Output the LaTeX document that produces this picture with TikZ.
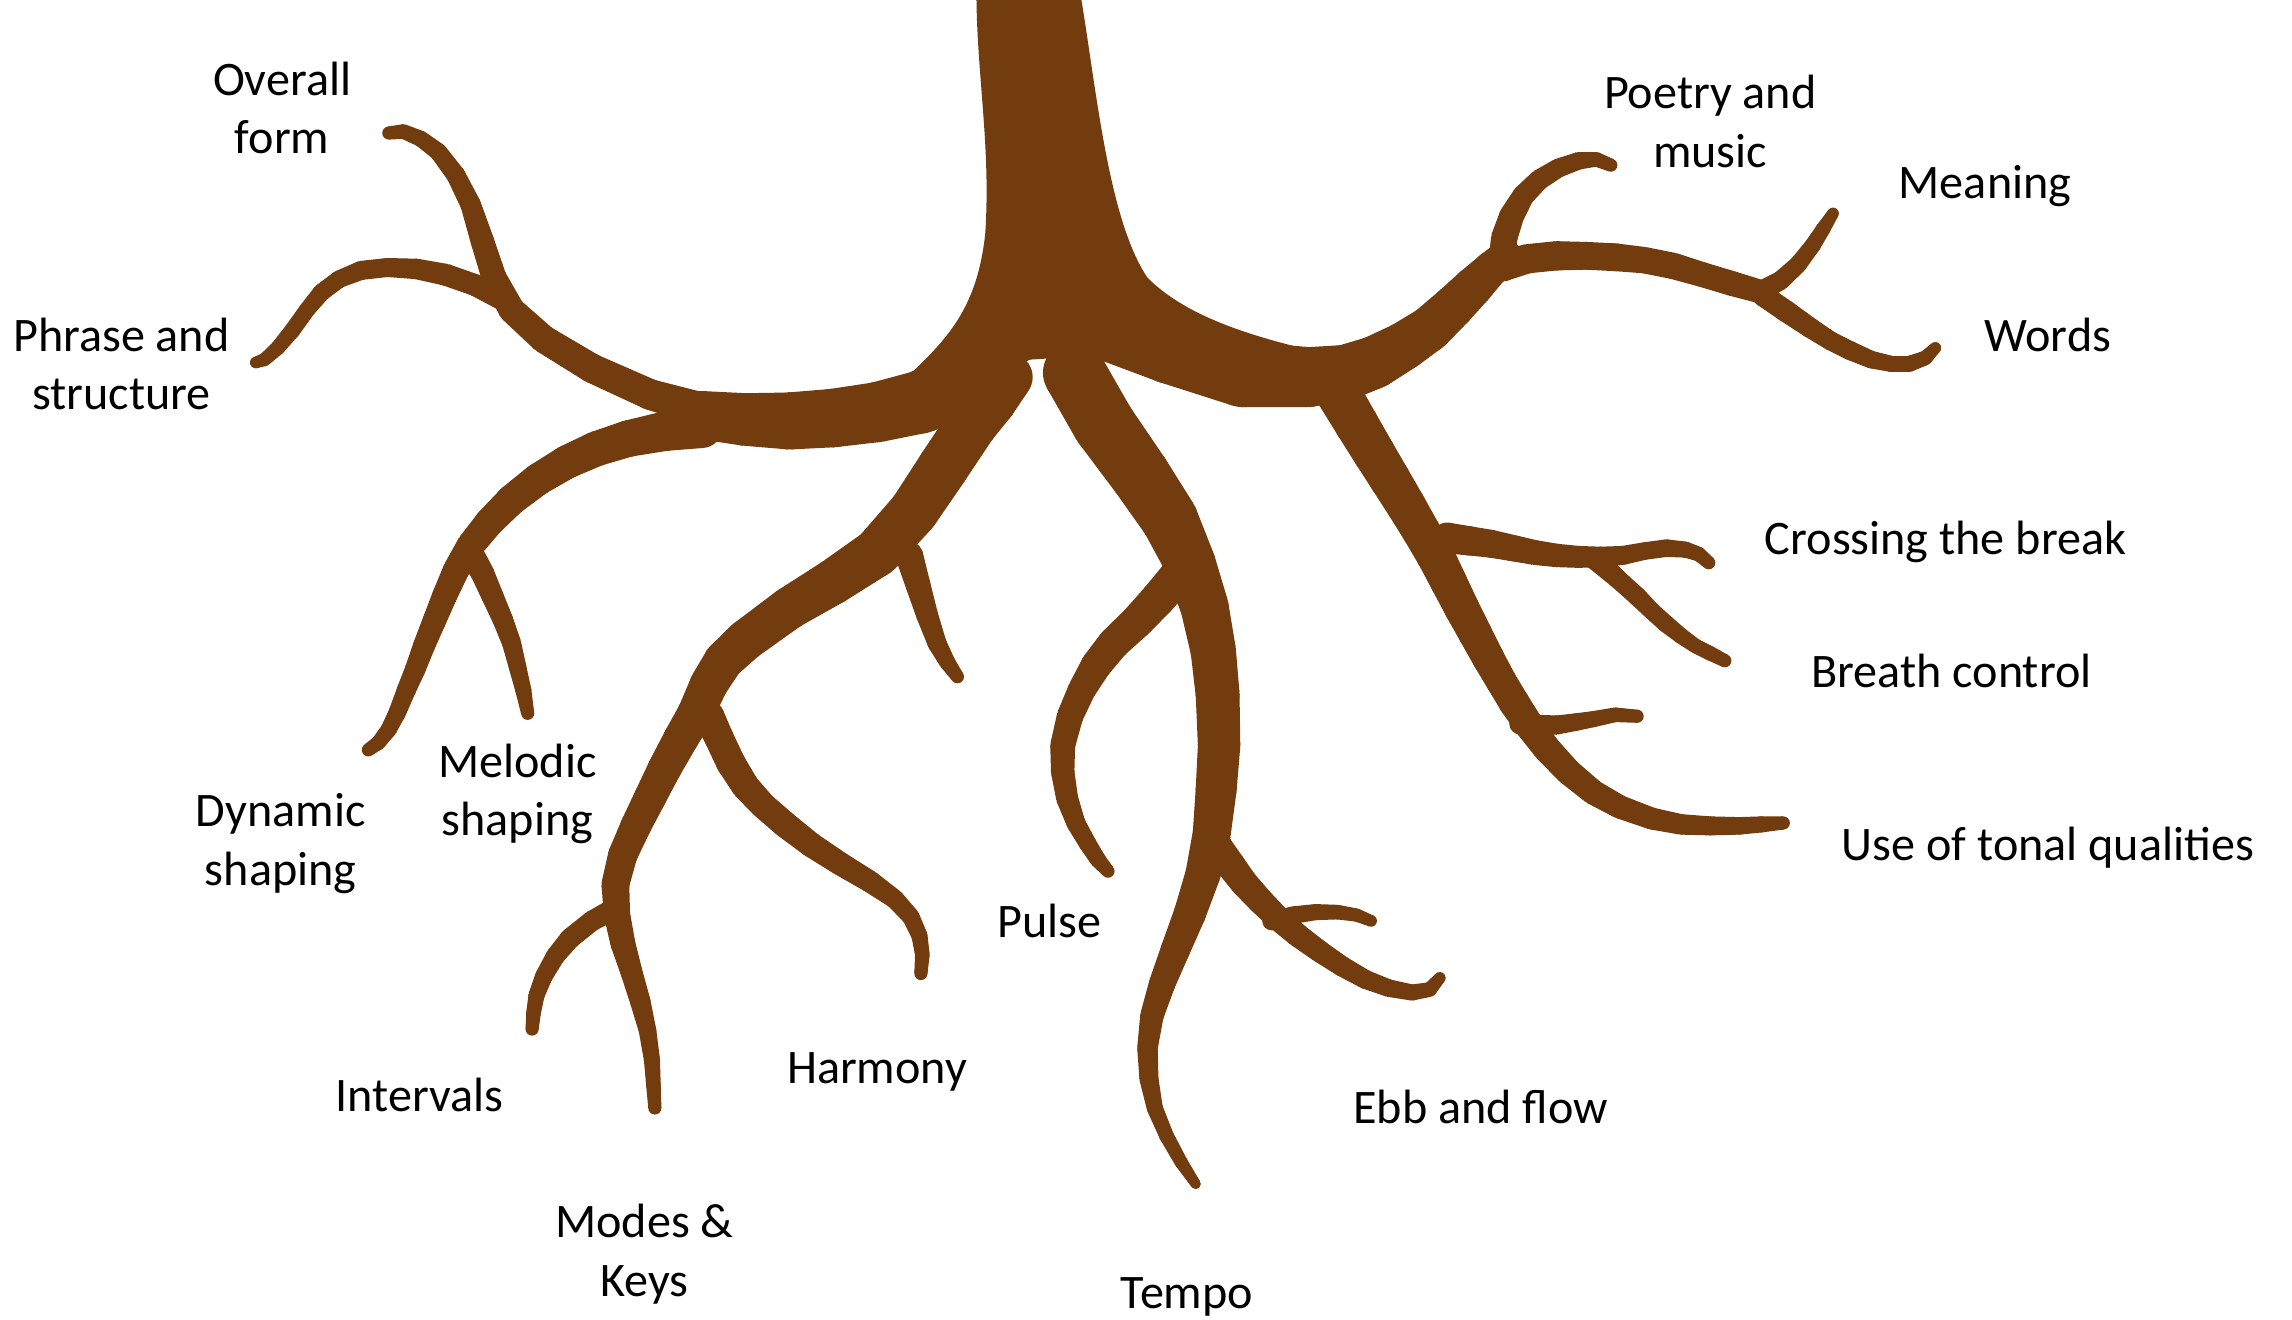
\documentclass[tikz,border=0pt]{standalone}
\usepackage{fontspec}
\setmainfont{Carlito}
\usepackage{tikz}
\usetikzlibrary{calc}
\definecolor{rootbrown}{HTML}{733C0E}

% Wurzelast als Liste x/y/Breite (Breite in Bildpunkten)
\newcommand\rootbranch[1]{%
  \foreach \x/\y/\w [count=\i, remember=\x as \px, remember=\y as \py, remember=\w as \pw] in {#1} {
    \pgfmathsetmacro\rw{(\w+5)*0.208}
    \fill[rootbrown] (\x,\y) circle[radius=\rw pt];
    \ifnum\i>1
      \pgfmathsetmacro\prw{(\pw+5)*0.208}
      \fill[rootbrown] ($(\px,\py)!\prw pt!90:(\x,\y)$) -- ($(\x,\y)!\rw pt!-90:(\px,\py)$)
        -- ($(\x,\y)!\rw pt!90:(\px,\py)$) -- ($(\px,\py)!\prw pt!-90:(\x,\y)$) -- cycle;
    \fi
  }}

\begin{document}
\begin{tikzpicture}[
    x=0.0146173cm, y=-0.0146173cm,
    rootlabel/.style={font=\fontsize{13.7}{16.6}\selectfont, align=center, inner sep=0pt}
]
\useasboundingbox (0,0) rectangle (1568,903);
\fill[white] (0,0) rectangle (1568,903);

% Stamm
\fill[rootbrown] (668,-5) -- (739,-5) .. controls (750,60) and (758,150) .. (785,190)
    .. controls (810,215) and (850,228) .. (890,238) -- (885,262) -- (770,242) -- (705,246)
    -- (640,272) -- (612,266) .. controls (645,235) and (668,215) .. (674,160)
    .. controls (678,100) and (668,50) .. (668,-5) -- cycle;

% linke Wurzeln
\rootbranch{660/262/40, 630/275/38, 600/282/36, 570/286/35, 540/288/34, 510/287/31, 480/284/28}
\rootbranch{480/280/18, 445/270/16, 405/252/15, 372/232/14, 350/212/13, 338/190/12, 330/165/11, 322/140/9, 312/120/8, 300/104/7, 288/95/6, 276/90/5, 266/91/4}
\rootbranch{345/205/11, 325/195/10, 305/188/10, 285/184/9, 265/183/8, 247/185/8, 232/191/7, 220/200/7, 210/212/6, 200/226/6, 190/238/5, 181/246/4, 175/248/3}
\rootbranch{480/292/24, 455/295/22, 430/300/20, 408/307/19, 388/316/18, 368/328/17, 350/342/16, 335/357/15, 322/373/14, 312/390/13, 304/408/12, 297/425/11, 290/442/10, 284/458/9, 278/472/8, 272/487/7, 266/499/6, 259/508/5, 252/513/4}
\rootbranch{322/378/12, 330/392/11, 337/408/10, 344/424/9, 350/440/8, 354/456/7, 358/472/6, 361/488/4}

% Wurzel nach unten links
\rootbranch{690/258/28, 678/274/30, 665/290/30, 645/320/30, 625/350/29, 600/378/28, 570/398/26, 540/416/24, 510/438/23, 495/452/22, 485/468/21, 476/488/20, 466/505/19, 455/525/18, 445/545/17, 435/565/16, 426/585/15, 421/605/14, 422/625/13, 426/645/12, 432/665/10, 438/685/9, 443/705/7, 446/725/6, 447/742/5, 448/758/4}
\rootbranch{420/622/10, 405/630/9, 390/642/9, 380/654/8, 372/668/7, 367/681/6, 365/693/5, 364/704/4}
\rootbranch{485/490/16, 492/505/15, 500/522/15, 510/538/14, 522/551/13, 537/564/13, 555/578/12, 575/591/11, 595/603/10, 612/615/8, 623/627/7, 629/640/6, 631/653/5, 630/666/4}
\rootbranch{622/380/14, 628/400/12, 634/420/10, 641/440/8, 648/453/6, 655/463/4}

% mittlere Wurzeln
\rootbranch{735/255/38, 755/290/38, 780/325/36, 800/355/34, 814/385/30, 824/415/28, 830/445/26, 833/475/25, 834/510/24, 832/540/23, 829/570/21, 823/598/19, 814/625/17, 804/650/15, 795/673/13, 788/695/11, 785/717/9, 786/738/8, 790/758/6, 798/777/5, 808/795/4, 818/810/2}
\rootbranch{805/395/20, 792/410/19, 778/425/18, 762/440/17, 750/455/16, 740/472/14, 732/490/13, 727/510/12, 727/528/11, 730/546/10, 736/563/8, 744/577/7, 751/588/6, 758/596/4}
\rootbranch{833/580/16, 842/592/15, 851/604/14, 862/616/13, 874/628/12, 888/640/11, 903/651/10, 918/661/9, 934/670/8, 950/676/7, 966/679/6, 978/677/5, 985/669/3}
\rootbranch{870/630/8, 885/626/7, 900/624/6, 915/624/5, 928/626/4, 938/630/3}

% rechte Wurzeln
\rootbranch{760/225/40, 800/240/40, 850/256/40, 895/258/36, 920/255/33, 940/248/31, 960/237/28, 978/225/26, 994/210/24, 1008/196/22, 1020/184/19, 1030/175/17}
\rootbranch{1028/178/14, 1029/163/13, 1034/148/12, 1042/134/10, 1053/123/9, 1066/115/8, 1080/110/7, 1092/109/5, 1102/113/4}
\rootbranch{1028/182/16, 1045/177/15, 1065/175/15, 1085/175/14, 1105/176/14, 1125/178/13, 1145/182/13, 1165/188/12, 1185/194/12, 1206/200/11}
\rootbranch{1205/199/9, 1218/192/8, 1230/181/7, 1240/168/6, 1247/157/5, 1254/146/3}
\rootbranch{1206/202/10, 1222/213/10, 1238/224/9, 1252/233/8, 1266/240/8, 1280/246/7, 1294/249/6, 1306/249/6, 1317/245/5, 1324/238/3}
\rootbranch{915/268/26, 928/290/25, 940/310/24, 951/328/23, 962/346/22, 972/363/21, 982/380/21, 991/398/20, 1000/416/19, 1009/433/18, 1018/450/17, 1027/466/16, 1036/481/16, 1046/496/15, 1058/512/14, 1073/528/13, 1090/542/12, 1108/552/11, 1130/560/10, 1150/564/9, 1170/565/8, 1190/565/7, 1205/564/6, 1220/563/4}
\rootbranch{990/368/16, 1005/370/15, 1020/372/14, 1035/375/13, 1050/378/12, 1065/380/11, 1080/381/10, 1095/381/9, 1110/380/8, 1125/377/7, 1140/375/7, 1153/376/6, 1162/379/5, 1169/385/4}
\rootbranch{1090/382/9, 1100/390/9, 1110/399/8, 1120/408/8, 1130/418/7, 1140/427/7, 1150/435/6, 1160/442/5, 1170/447/5, 1180/452/4}
\rootbranch{1040/495/10, 1053/496/9, 1065/496/8, 1078/494/7, 1090/492/6, 1105/489/5, 1120/490/4}

% Beschriftungen
\node[rootlabel] (form) at (193,74) {Overall\\form};
\node[rootlabel] (phrase) at (83,249) {Phrase and\\structure};
\node[rootlabel] (dynamic) at (192,577) {Dynamic\\shaping};
\node[rootlabel] (melodic) at (354,543) {Melodic\\shaping};
\node[rootlabel] (intervals) at (287,749) {Intervals};
\node[rootlabel] (modes) at (441,858) {Modes \&\\Keys};
\node[rootlabel] (harmony) at (600,733) {Harmony};
\node[rootlabel] (pulse) at (718,630) {Pulse};
\node[rootlabel] (tempo) at (812,887) {Tempo};
\node[rootlabel] (ebb) at (1013,757) {Ebb and flow};
\node[rootlabel] (poetry) at (1170,83) {Poetry and\\music};
\node[rootlabel] (meaning) at (1358,127) {Meaning};
\node[rootlabel] (words) at (1401,229) {Words};
\node[rootlabel] (crossing) at (1331,371) {Crossing the break};
\node[rootlabel] (breath) at (1335,459) {Breath control};
\node[rootlabel] (tonal) at (1401,580) {Use of tonal qualities};

\end{tikzpicture}
\end{document}
